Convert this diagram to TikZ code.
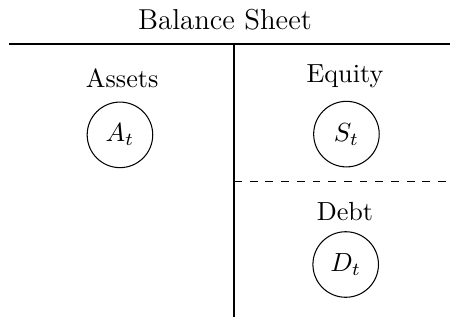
\documentclass[tikz,border=0pt]{standalone}
\usepackage{amsmath}
\usetikzlibrary{positioning}

\begin{document}
\begin{tikzpicture}[
        heading/.style={font=\normalsize, anchor=center},
        account/.style={draw, circle, minimum size=0.88cm, inner sep=0pt},
        rule/.style={semithick}
    ]
        \useasboundingbox (0,0) rectangle (6.04,-4.29);

        % title and rules
        \node[font=\fontsize{11}{13}\selectfont] (title) at (3.02,-0.27) {Balance Sheet};
        \coordinate (topl) at (0.12,-0.59);
        \coordinate (topr) at (6.04,-0.59);
        \coordinate (midt) at (3.14,-0.59);
        \coordinate (midb) at (3.14,-4.26);
        \coordinate (dashl) at (3.14,-2.43);
        \coordinate (dashr) at (6.04,-2.43);
        \draw[rule] (topl) -- (topr);
        \draw[rule] (midt) -- (midb);
        \draw[dashed] (dashl) -- (dashr);

        % left side
        \node[heading] (assets) at (1.64,-1.05) {Assets};
        \node[account] (at) at (1.61,-1.81) {$A_t$};

        % right side
        \node[heading] (equity) at (4.63,-1.02) {Equity};
        \node[account] (st) at (4.65,-1.80) {$S_t$};
        \node[heading] (debt) at (4.63,-2.84) {Debt};
        \node[account] (dt) at (4.64,-3.55) {$D_t$};

    \end{tikzpicture}
\end{document}
